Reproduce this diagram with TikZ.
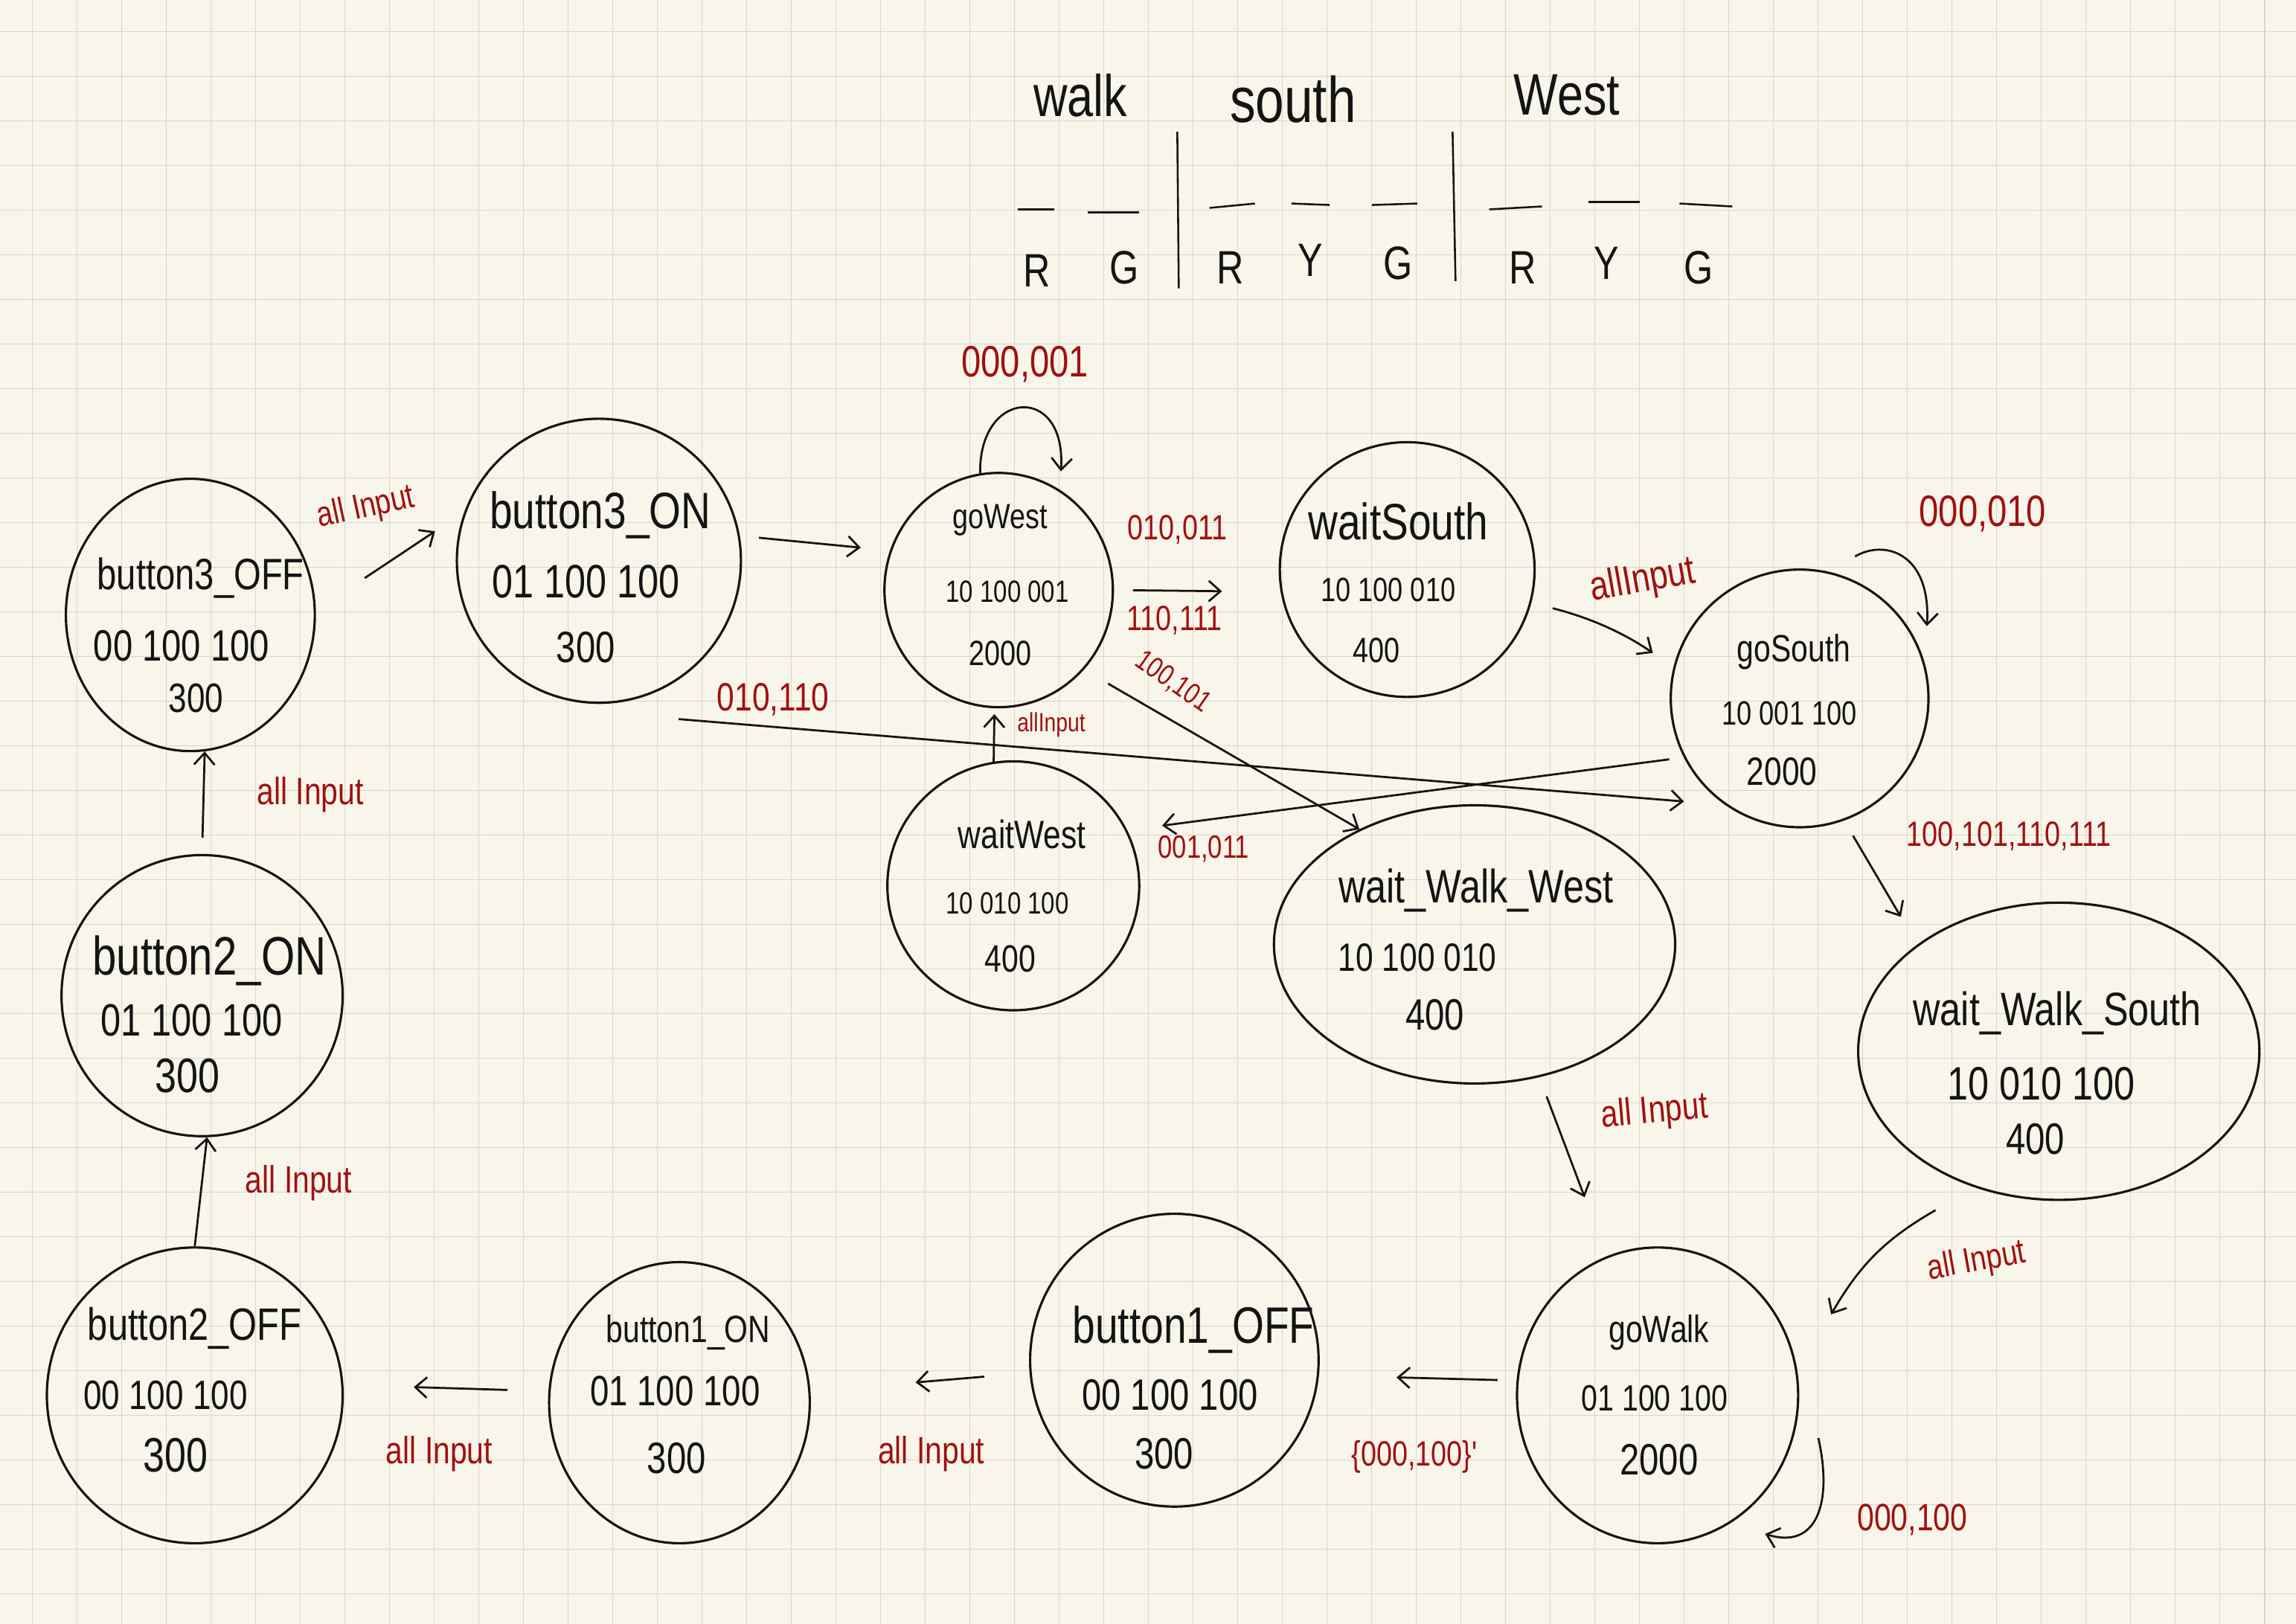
\documentclass[tikz,border=0pt]{standalone}
\usepackage{fontspec}
\newfontfamily\hand[FakeStretch=0.8]{Liberation Sans}
\usetikzlibrary{shapes.geometric,arrows.meta}
\definecolor{paper}{RGB}{248,246,235}
\definecolor{gridc}{RGB}{216,214,204}
\definecolor{ink}{RGB}{20,20,20}
\definecolor{redink}{RGB}{160,16,16}
\newcommand\fs[1]{\fontsize{#1}{#1}\selectfont}
\begin{document}
\begin{tikzpicture}[x=1pt,y=-1pt,
  st/.style={draw=ink,ellipse,line width=1.6pt,inner sep=0pt},
  tx/.style={inner sep=0pt,text=ink},
  lab/.style={inner sep=0pt,text=redink},
  arr/.style={draw=ink,line width=1.4pt,-{Straight Barb[length=8pt,width=14pt]}},
  pen/.style={draw=ink,line width=1.3pt},
  gridl/.style={draw=gridc,line width=0.8pt}]
\useasboundingbox (0,0) rectangle (1568,1109);
\fill[paper] (0,0) rectangle (1568,1109);
\begin{scope}
\clip (0,0) rectangle (1568,1109);
\foreach \i in {0,...,51} {\draw[gridl] ({(43.5+60*\i)/1.968},0) -- ++(0,1109);}
\foreach \j in {0,...,36} {\draw[gridl] (0,{(42.5+60*\j)/1.968}) -- ++(1568,0);}
\end{scope}

% header
\node[tx,font={\hand\fs{40}}] (hwalk) at (738,65) {walk};
\node[tx,font={\hand\fs{44}}] (hsouth) at (883,68) {south};
\node[tx,font={\hand\fs{40}}] (hwest) at (1070,65) {West};
\draw[pen] (695,143) -- (720,143);
\draw[pen] (743,145) -- (778,145);
\draw[pen] (804,90) -- (805,197);
\draw[pen] (826,142) -- (857,139);
\draw[pen] (882,139) -- (908,140);
\draw[pen] (937,140) -- (968,139);
\draw[pen] (992,90) -- (994,192);
\draw[pen] (1017,143) -- (1053,141);
\draw[pen] (1085,138) -- (1120,138);
\draw[pen] (1147,139) -- (1183,141);
\node[tx,font={\hand\fs{32}}] (l1) at (708,185) {R};
\node[tx,font={\hand\fs{32}}] (l2) at (768,183) {G};
\node[tx,font={\hand\fs{32}}] (l3) at (840,183) {R};
\node[tx,font={\hand\fs{32}}] (l4) at (895,178) {Y};
\node[tx,font={\hand\fs{32}}] (l5) at (955,180) {G};
\node[tx,font={\hand\fs{32}}] (l6) at (1040,183) {R};
\node[tx,font={\hand\fs{32}}] (l7) at (1097,180) {Y};
\node[tx,font={\hand\fs{32}}] (l8) at (1160,183) {G};

% states
\node[st,minimum width=170,minimum height=186] (b3off) at (130,420) {};
\node[st,minimum width=194,minimum height=194] (b3on) at (409,383) {};
\node[st,minimum width=156,minimum height=160] (gw) at (682,403) {};
\node[st,minimum width=174,minimum height=174] (ws) at (961,389) {};
\node[st,minimum width=176,minimum height=176] (gs) at (1229,477) {};
\node[st,minimum width=172,minimum height=170] (ww) at (692,605) {};
\node[st,minimum width=274,minimum height=190] (wwW) at (1007,645) {};
\node[st,minimum width=274,minimum height=203] (wwS) at (1406,718) {};
\node[st,minimum width=192,minimum height=202] (gwk) at (1132,953) {};
\node[st,minimum width=197,minimum height=200] (b1off) at (802,929) {};
\node[st,minimum width=178,minimum height=192] (b1on) at (464,958) {};
\node[st,minimum width=202,minimum height=202] (b2off) at (133,953) {};
\node[st,minimum width=192,minimum height=192] (b2on) at (138,680) {};

% state texts
\node[tx,font={\hand\fs{30}}] (b3offA) at (137,395) {button3\_OFF};
\node[tx,font={\hand\fs{30}}] (b3offB) at (124,441) {00 100 100};
\node[tx,font={\hand\fs{28}}] (b3offC) at (134,477) {300};
\node[tx,font={\hand\fs{35}}] (b3onA) at (410,352) {button3\_ON};
\node[tx,font={\hand\fs{32}}] (b3onB) at (400,397) {01 100 100};
\node[tx,font={\hand\fs{30}}] (b3onC) at (400,442) {300};
\node[tx,font={\hand\fs{24}}] (gwA) at (683,355) {goWest};
\node[tx,font={\hand\fs{21}}] (gwB) at (688,404) {10 100 001};
\node[tx,font={\hand\fs{24}}] (gwC) at (683,446) {2000};
\node[tx,font={\hand\fs{35}}] (wsA) at (955,356) {waitSouth};
\node[tx,font={\hand\fs{23}}] (wsB) at (948,403) {10 100 010};
\node[tx,font={\hand\fs{24}}] (wsC) at (940,444) {400};
\node[tx,font={\hand\fs{26}}] (gsA) at (1225,445) {goSouth};
\node[tx,font={\hand\fs{23}}] (gsB) at (1222,487) {10 001 100};
\node[tx,font={\hand\fs{27}}] (gsC) at (1217,527) {2000};
\node[tx,font={\hand\fs{27}}] (wwA) at (698,570) {waitWest};
\node[tx,font={\hand\fs{21}}] (wwB) at (688,617) {10 010 100};
\node[tx,font={\hand\fs{26}}] (wwC) at (690,655) {400};
\node[tx,font={\hand\fs{32}}] (wwWA) at (1008,608) {wait\_Walk\_West};
\node[tx,font={\hand\fs{27}}] (wwWB) at (968,654) {10 100 010};
\node[tx,font={\hand\fs{30}}] (wwWC) at (980,693) {400};
\node[tx,font={\hand\fs{32}}] (wwSA) at (1405,692) {wait\_Walk\_South};
\node[tx,font={\hand\fs{32}}] (wwSB) at (1394,740) {10 010 100};
\node[tx,font={\hand\fs{30}}] (wwSC) at (1390,778) {400};
\node[tx,font={\hand\fs{26}}] (gwkA) at (1133,910) {goWalk};
\node[tx,font={\hand\fs{25}}] (gwkB) at (1130,955) {01 100 100};
\node[tx,font={\hand\fs{30}}] (gwkC) at (1133,997) {2000};
\node[tx,font={\hand\fs{35}}] (b1offA) at (815,908) {button1\_OFF};
\node[tx,font={\hand\fs{30}}] (b1offB) at (799,953) {00 100 100};
\node[tx,font={\hand\fs{30}}] (b1offC) at (795,993) {300};
\node[tx,font={\hand\fs{26}}] (b1onA) at (470,910) {button1\_ON};
\node[tx,font={\hand\fs{29}}] (b1onB) at (461,950) {01 100 100};
\node[tx,font={\hand\fs{30}}] (b1onC) at (462,996) {300};
\node[tx,font={\hand\fs{31}}] (b2offA) at (133,907) {button2\_OFF};
\node[tx,font={\hand\fs{28}}] (b2offB) at (113,953) {00 100 100};
\node[tx,font={\hand\fs{33}}] (b2offC) at (120,994) {300};
\node[tx,font={\hand\fs{37}}] (b2onA) at (143,656) {button2\_ON};
\node[tx,font={\hand\fs{31}}] (b2onB) at (131,697) {01 100 100};
\node[tx,font={\hand\fs{33}}] (b2onC) at (128,735) {300};

% transitions
\draw[arr,shorten <=40pt,shorten >=24pt] (b3off.2) -- (b3on.160);
\draw[arr,shorten <=13pt,shorten >=20pt] (b3on.10) -- (gw.160);
\draw[arr] (gw.99) .. controls +(-1,-58) and +(4,-60) .. ([yshift=13pt]gw.58);
\draw[arr,shorten <=13pt,shorten >=40pt] (gw.0) -- (ws.190);
\draw[arr,shorten <=15pt,shorten >=17pt] (ws.345) to[bend left=10] (gs.166);
\draw[arr] ([shift={(6,-14)}]gs.69) .. controls +(20,-12) and +(3,-50) .. ([shift={(10,-5)}]gs.30);
\draw[arr,shorten <=12pt,shorten >=22pt] (gs.-70) -- (wwS.143);
\draw[arr] ([shift={(10,21)}]b3on.-63) -- ([shift={(-13,11)}]gs.222);
\draw[arr,shorten <=10pt,shorten >=24pt] (gs.207) -- (ww.26);
\draw[arr,shorten <=19pt] (gw.-43) -- (wwW.135);
\draw[arr,shorten >=4pt] (ww.99) -- (gw.268);
\draw[arr,shorten <=14pt,shorten >=43pt] (wwW.-64) -- (gwk.110);
\draw[arr] ([shift={(-15,20)}]wwS.-128) to[bend right=15] ([shift={(30,-14)}]gwk.25);
\draw[arr] ([shift={(16,4)}]gwk.-15) .. controls +(10,45) and +(35,11) .. ([shift={(12,16)}]gwk.-52);
\draw[arr,shorten <=13pt,shorten >=53pt] (gwk.174) -- (b1off.-6);
\draw[arr,shorten <=31pt,shorten >=72pt] (b1off.185) -- (b1on.5);
\draw[arr,shorten <=28pt,shorten >=48pt] (b1on.175) -- (b2off.4);
\draw[arr] (b2off.90) -- (b2on.-88);
\draw[arr,shorten <=11pt] (b2on.90) -- (b3off.-84);

% labels
\node[lab,font={\hand\fs{24}},rotate=12] (t1) at (250,347) {all Input};
\node[lab,font={\hand\fs{30}}] (t2) at (700,249) {000,001};
\node[lab,font={\hand\fs{24}}] (t3) at (804,362) {010,011};
\node[lab,font={\hand\fs{24}}] (t4) at (802,424) {110,111};
\node[lab,font={\hand\fs{28}},rotate=10] (t5) at (1122,397) {allInput};
\node[lab,font={\hand\fs{30}}] (t6) at (1354,351) {000,010};
\node[lab,font={\hand\fs{24}}] (t7) at (1372,571) {100,101,110,111};
\node[lab,font={\hand\fs{27}}] (t8) at (528,478) {010,110};
\node[lab,font={\hand\fs{22}}] (t9) at (822,580) {001,011};
\node[lab,font={\hand\fs{20}},rotate=-35] (t10) at (801,466) {100,101};
\node[lab,font={\hand\fs{18}}] (t11) at (718,495) {allInput};
\node[lab,font={\hand\fs{26}},rotate=5] (t12) at (1130,760) {all Input};
\node[lab,font={\hand\fs{24}},rotate=10] (t13) at (1350,862) {all Input};
\node[lab,font={\hand\fs{26}}] (t14) at (1306,1038) {000,100};
\node[lab,font={\hand\fs{24}}] (t15) at (966,995) {\{000,100\}'};
\node[lab,font={\hand\fs{26}}] (t16) at (636,993) {all Input};
\node[lab,font={\hand\fs{26}}] (t17) at (300,993) {all Input};
\node[lab,font={\hand\fs{26}}] (t18) at (204,808) {all Input};
\node[lab,font={\hand\fs{26}}] (t19) at (212,543) {all Input};
\end{tikzpicture}
\end{document}
